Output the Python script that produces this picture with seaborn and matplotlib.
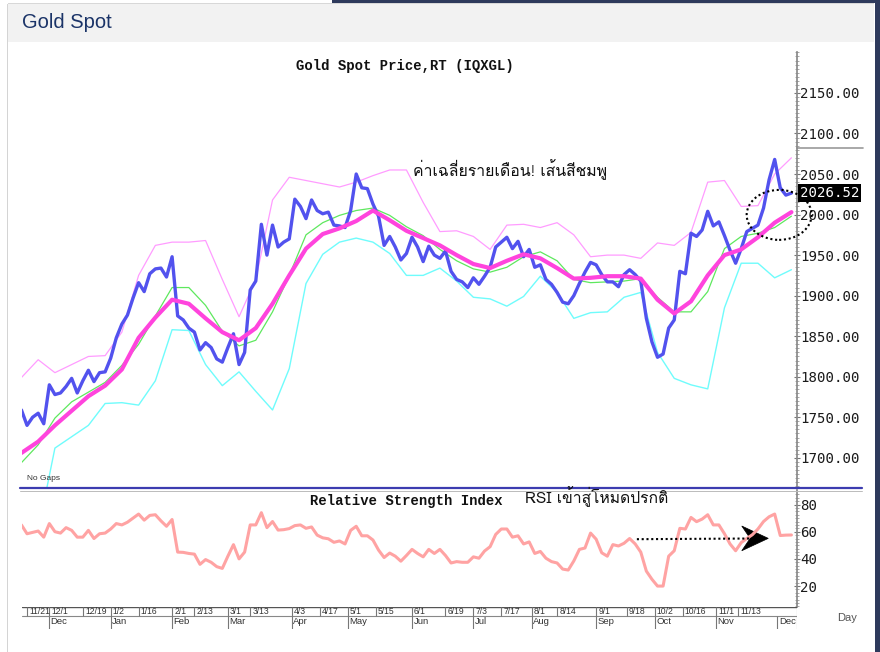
import numpy as np
import pandas as pd
import matplotlib
matplotlib.use('Agg')
import matplotlib.pyplot as plt
import seaborn as sns
from matplotlib import font_manager
from matplotlib.ft2font import FT2Font
from matplotlib.patches import Rectangle, Ellipse, Polygon
from matplotlib.lines import Line2D
from matplotlib.ticker import FixedLocator, MultipleLocator, FormatStrFormatter
import matplotlib.transforms as mtrans

# ── Data (trading-day position, 0 = 2022-11-17) ─────────────────────────────
price_day = np.arange(0, 277, 2)
price = [1759, 1740, 1750, 1755, 1742, 1790, 1778, 1780, 1788, 1798,
         1780, 1795, 1808, 1794, 1805, 1806, 1823, 1848, 1865, 1876,
         1897, 1916, 1905, 1927, 1933, 1934, 1923, 1948, 1875, 1870,
         1860, 1855, 1833, 1842, 1836, 1822, 1818, 1836, 1853, 1815,
         1830, 1907, 1918, 1988, 1950, 1987, 1960, 1966, 1970, 2019,
         2010, 1995, 2018, 2005, 2001, 2003, 1987, 1986, 1984, 2005,
         2050, 2033, 2032, 2013, 1998, 1962, 1973, 1960, 1944, 1952,
         1972, 1960, 1942, 1961, 1950, 1946, 1955, 1930, 1920, 1917,
         1910, 1922, 1914, 1924, 1935, 1960, 1966, 1972, 1958, 1967,
         1948, 1957, 1935, 1938, 1920, 1914, 1904, 1892, 1890, 1900,
         1915, 1929, 1941, 1938, 1926, 1917, 1917, 1911, 1926, 1932,
         1926, 1918, 1872, 1843, 1824, 1828, 1860, 1870, 1930, 1927,
         1977, 1973, 1981, 2004, 1986, 1991, 1974, 1956, 1940, 1958,
         1979, 1983, 1987, 2008, 2043, 2068, 2033, 2024, 2026.52]
last_label = '2026.52'

rsi = [65, 58.5, 59.5, 60.5, 56, 66, 60, 59, 63, 61,
       56, 56, 61, 55, 58.5, 59, 62, 66, 65, 67,
       70, 73, 68.5, 72, 72.5, 68, 64, 69, 45, 44.8,
       44, 43.5, 36, 39.5, 37.5, 34.3, 33, 42, 50.5, 40,
       45, 65, 65, 74, 63, 67.5, 61.2, 61.5, 62.3, 64.5,
       65, 62.5, 63.5, 57.5, 55.5, 54.8, 52.2, 53.2, 51, 61,
       64, 57, 57, 53.9, 46.5, 41, 44.3, 42, 38.3, 42.5,
       47, 44, 41.5, 47, 44, 47, 42.5, 37, 38, 37.5,
       37.5, 41.5, 40.5, 45.8, 49, 58, 62, 62, 56, 57,
       51, 52.5, 44, 45.5, 40.5, 38, 37, 32.5, 31.8, 38.5,
       47, 48, 59, 54.5, 44.5, 42, 50.5, 49.5, 51.5, 55,
       51, 45, 31, 25, 20, 20, 42, 46, 62.5, 62,
       70.5, 67.4, 69.3, 72.5, 65, 65, 58.5, 51, 46, 52,
       55, 57.8, 62, 67.5, 71, 73, 57.2, 57.5, 57.6]

ma_day = np.arange(0, 277, 6)
ma_pink = [1706, 1720, 1740, 1758, 1776, 1789, 1809, 1848, 1873, 1895,
           1890, 1872, 1855, 1845, 1860, 1890, 1925, 1958, 1976, 1983,
           1992, 2005, 1993, 1980, 1971, 1962, 1950, 1939, 1934, 1943,
           1951, 1946, 1934, 1921, 1922, 1924, 1924, 1921, 1895, 1878,
           1893, 1925, 1950, 1957, 1972, 1990, 2003]
ma_green = [1694, 1716, 1749, 1769, 1781, 1793, 1814, 1840, 1875, 1910,
            1910, 1888, 1856, 1838, 1845, 1880, 1925, 1975, 1990, 1999,
            2005, 2008, 1999, 1985, 1974, 1957, 1943, 1933, 1929, 1935,
            1948, 1954, 1943, 1920, 1916, 1917, 1918, 1921, 1898, 1880,
            1880, 1905, 1958, 1973, 1977, 1984, 1998]
upper_band = [1799, 1821, 1805, 1815, 1825, 1826, 1855, 1925, 1962, 1966,
              1966, 1968, 1920, 1874, 1920, 2018, 2046, 2042, 2038, 2034,
              2040, 2048, 2055, 2055, 2015, 1979, 1980, 1973, 1957, 1987,
              1988, 1984, 1990, 1975, 1948, 1950, 1950, 1946, 1965, 1962,
              1978, 2040, 2042, 2010, 2011, 2050, 2070]
lower_band = [1560, 1610, 1712, 1726, 1740, 1767, 1768, 1765, 1795, 1858,
              1857, 1815, 1789, 1806, 1782, 1759, 1810, 1915, 1951, 1966,
              1971, 1966, 1952, 1925, 1925, 1934, 1918, 1898, 1896, 1887,
              1899, 1924, 1904, 1872, 1879, 1880, 1898, 1904, 1830, 1798,
              1790, 1785, 1885, 1940, 1940, 1922, 1932]

tick_dates = ['2022-11-21', '2022-12-01', '2022-12-19', '2023-01-02', '2023-01-16',
              '2023-02-01', '2023-02-13', '2023-03-01', '2023-03-13', '2023-04-03',
              '2023-04-17', '2023-05-01', '2023-05-15', '2023-06-01', '2023-06-19',
              '2023-07-03', '2023-07-17', '2023-08-01', '2023-08-14', '2023-09-01',
              '2023-09-18', '2023-10-02', '2023-10-16', '2023-11-01', '2023-11-13']
tick_labels = ['11/21', '12/1', '12/19', '1/2', '1/16', '2/1', '2/13', '3/1', '3/13',
               '4/3', '4/17', '5/1', '5/15', '6/1', '6/19', '7/3', '7/17', '8/1',
               '8/14', '9/1', '9/18', '10/2', '10/16', '11/1', '11/13']
month_dates = ['2022-11-17', '2022-12-01', '2023-01-02', '2023-02-01', '2023-03-01',
               '2023-04-03', '2023-05-01', '2023-06-01', '2023-07-03', '2023-08-01',
               '2023-09-01', '2023-10-02', '2023-11-01', '2023-12-01']
month_labels = ['Nov', 'Dec', 'Jan', 'Feb', 'Mar', 'Apr', 'May', 'Jun', 'Jul', 'Aug',
                'Sep', 'Oct', 'Nov', 'Dec']
price_ticks = [1700, 1750, 1800, 1850, 1900, 1950, 2000, 2050, 2100, 2150]
rsi_ticks = [20, 40, 60, 80]

bdays = pd.bdate_range('2022-11-17', '2023-12-29')
tick_pos = [bdays.get_loc(pd.Timestamp(d)) for d in tick_dates]
month_pos = [bdays.get_loc(pd.Timestamp(d)) for d in month_dates]


# ── Fonts ───────────────────────────────────────────────────────────────────
def find_font(codepoint):
    for f in font_manager.fontManager.ttflist:
        try:
            if codepoint in FT2Font(f.fname).get_charmap():
                return f.name
        except Exception:
            pass
    return 'DejaVu Sans'


sns.set_theme(style='white')
thai_font = find_font(0x0E04)
plt.rcParams['font.family'] = [thai_font, 'DejaVu Sans']
MONO = ['Liberation Mono', 'DejaVu Sans Mono']
SANS = ['Liberation Sans', 'DejaVu Sans']

W, H = 880, 652


def box(x0, y0, x1, y1):
    return [x0 / W, 1 - y1 / H, (x1 - x0) / W, (y1 - y0) / H]


fig = plt.figure(figsize=(8.8, 6.52), dpi=100, facecolor='white')

# page frame / header
for (x0, y0, x1, y1, c) in [(8, 4, 874, 42, '#f2f2f2'), (332, 0, 880, 3, '#2e3a5c'),
                            (875, 0, 880, 652, '#2e3a5c'), (7, 4, 8, 652, '#d4d4d4'),
                            (8, 3, 874, 4, '#d8d8d8')]:
    fig.add_artist(Rectangle((x0 / W, 1 - y1 / H), (x1 - x0) / W, (y1 - y0) / H,
                             transform=fig.transFigure, fc=c, ec='none'))
fig.text(22 / W, 1 - 23 / H, 'Gold Spot', family=SANS, fontsize=14.5,
         color='#1b3468', va='center', ha='left')

ax = fig.add_axes(box(22, 52, 797, 487))
ax_rsi = fig.add_axes(box(22, 490, 797, 607))
ax_d = fig.add_axes(box(22, 607, 797, 629))
XLIM = (0.2, 278)

# ── Price panel ─────────────────────────────────────────────────────────────
sns.lineplot(x=ma_day, y=upper_band, ax=ax, color='#ff9cff', linewidth=0.9)
sns.lineplot(x=ma_day, y=lower_band, ax=ax, color='#6ffcfc', linewidth=1.0)
sns.lineplot(x=ma_day, y=ma_green, ax=ax, color='#5ee85e', linewidth=0.9)
sns.lineplot(x=price_day, y=price, ax=ax, color='#5252ee', linewidth=2.4)
sns.lineplot(x=ma_day, y=ma_pink, ax=ax, color='#ff44dd', linewidth=3.0)

ax.set_xlim(*XLIM)
ax.set_ylim(1664, 2200.5)
ax.set_xticks([])
ax.set_xlabel('')
ax.set_ylabel('')
for s in ['top', 'left', 'bottom']:
    ax.spines[s].set_visible(False)
ax.spines['right'].set_color('#8a8a8a')
ax.yaxis.tick_right()
ax.yaxis.set_major_locator(FixedLocator(price_ticks))
ax.yaxis.set_major_formatter(FormatStrFormatter('%.2f'))
ax.yaxis.set_minor_locator(MultipleLocator(5))
ax.tick_params(axis='y', which='major', length=4, width=0.8, color='#777777',
               direction='inout', pad=0.5, labelsize=10.2, labelcolor='#1a1a1a')
ax.tick_params(axis='y', which='minor', length=2.5, width=0.6, color='#999999',
               direction='inout', right=True)
for t in ax.get_yticklabels():
    t.set_family('DejaVu Sans Mono')

blend = mtrans.blended_transform_factory(ax.transAxes, ax.transData)
ax.add_line(Line2D([1.0, 1.085], [2082, 2082], transform=blend, color='#999999',
                   lw=1.2, clip_on=False))
ax.annotate(last_label, xy=(1.0, price[-1]), xycoords=blend, xytext=(2, 0),
            textcoords='offset points', va='center', ha='left', color='white',
            family='DejaVu Sans Mono', fontsize=10.2,
            bbox=dict(boxstyle='square,pad=0.12', fc='black', ec='none'))
ax.add_patch(Ellipse((271.6, 1999.6), width=23.3, height=61.6, fill=False,
                     ec='black', lw=1.5, ls=(0, (1, 1.3)), clip_on=False, zorder=5))
ax.text(0.007, 0.012, 'No Gaps', transform=ax.transAxes, fontsize=6,
        family=SANS, color='#333333', ha='left', va='bottom')

fig.text(405 / W, 1 - 66 / H, 'Gold Spot Price,RT (IQXGL)', family=MONO,
         fontweight='bold', fontsize=10, ha='center', va='center', color='#111111')
fig.text(413 / W, 1 - 170 / H, 'ค่าเฉลี่ยรายเดือน! เส้นสีชมพู', fontsize=11.4,
         ha='left', va='center', color='#111111')

# ── RSI panel ───────────────────────────────────────────────────────────────
sns.lineplot(x=price_day, y=rsi, ax=ax_rsi, color='#ffa3a3', linewidth=2.2)
ax_rsi.set_xlim(*XLIM)
ax_rsi.set_ylim(4.6, 90.7)
ax_rsi.set_xticks([])
ax_rsi.set_xlabel('')
ax_rsi.set_ylabel('')
for s in ['top', 'left', 'bottom']:
    ax_rsi.spines[s].set_visible(False)
ax_rsi.spines['right'].set_color('#8a8a8a')
ax_rsi.yaxis.tick_right()
ax_rsi.yaxis.set_major_locator(FixedLocator(rsi_ticks))
ax_rsi.yaxis.set_minor_locator(MultipleLocator(2.5))
ax_rsi.tick_params(axis='y', which='major', length=4, width=0.8, color='#777777',
                   direction='inout', pad=0.5, labelsize=10.2, labelcolor='#1a1a1a')
ax_rsi.tick_params(axis='y', which='minor', length=2.5, width=0.6, color='#999999',
                   direction='inout', right=True)
for t in ax_rsi.get_yticklabels():
    t.set_family('DejaVu Sans Mono')

# dotted arrow with a notched head
ax_rsi.plot([220.6, 261], [54.5, 55.0], color='black', lw=1.5, ls=(0, (1, 1.3)))
ax_rsi.add_patch(Polygon([(267.7, 55.1), (258.2, 64.2), (261.2, 55.1), (258.2, 46.0)],
                         closed=True, fc='black', ec='black', lw=0.5))

fig.text(406 / W, 1 - 501 / H, 'Relative Strength Index', family=MONO,
         fontweight='bold', fontsize=10, ha='center', va='center', color='#111111')
fig.text(525 / W, 1 - 497 / H, 'RSI เข้าสู่โหมดปรกติ', fontsize=11.3,
         ha='left', va='center', color='#111111')

# panel separator
fig.add_artist(Line2D([20 / W, 862 / W], [1 - 487.5 / H] * 2, transform=fig.transFigure,
                      color='#3c3cb0', lw=1.6))
fig.add_artist(Line2D([20 / W, 862 / W], [1 - 490.5 / H] * 2, transform=fig.transFigure,
                      color='#bbbbbb', lw=0.7))

# ── Date strip ──────────────────────────────────────────────────────────────
ax_d.set_xlim(*XLIM)
ax_d.set_ylim(0, 1)
ax_d.axis('off')
ax_d.axhline(1.0, color='#555555', lw=1.0)
ax_d.axhline(0.6, color='#888888', lw=0.8)
ax_d.vlines(tick_pos, 0.6, 1.0, color='#777777', lw=0.8)
ax_d.vlines(month_pos[1:], 0.0, 0.6, color='#777777', lw=0.8)
ax_d.vlines([XLIM[1]], 0.0, 1.0, color='#8a8a8a', lw=0.8)
for p, lab in zip(tick_pos, tick_labels):
    ax_d.annotate(lab, xy=(p, 0.8), xytext=(1.5, 0), textcoords='offset points',
                  fontsize=6.2, family=SANS, color='#333333', ha='left', va='center')
for p, lab in zip(month_pos, month_labels):
    ax_d.annotate(lab, xy=(p, 0.36), xytext=(1, 0), textcoords='offset points',
                  fontsize=6.8, family=SANS, color='#333333', ha='left', va='center')
fig.text(847 / W, 1 - 618 / H, 'Day', family=SANS, fontsize=8, color='#555555',
         ha='center', va='center')

fig.savefig('out.png', dpi=100, facecolor='white')
